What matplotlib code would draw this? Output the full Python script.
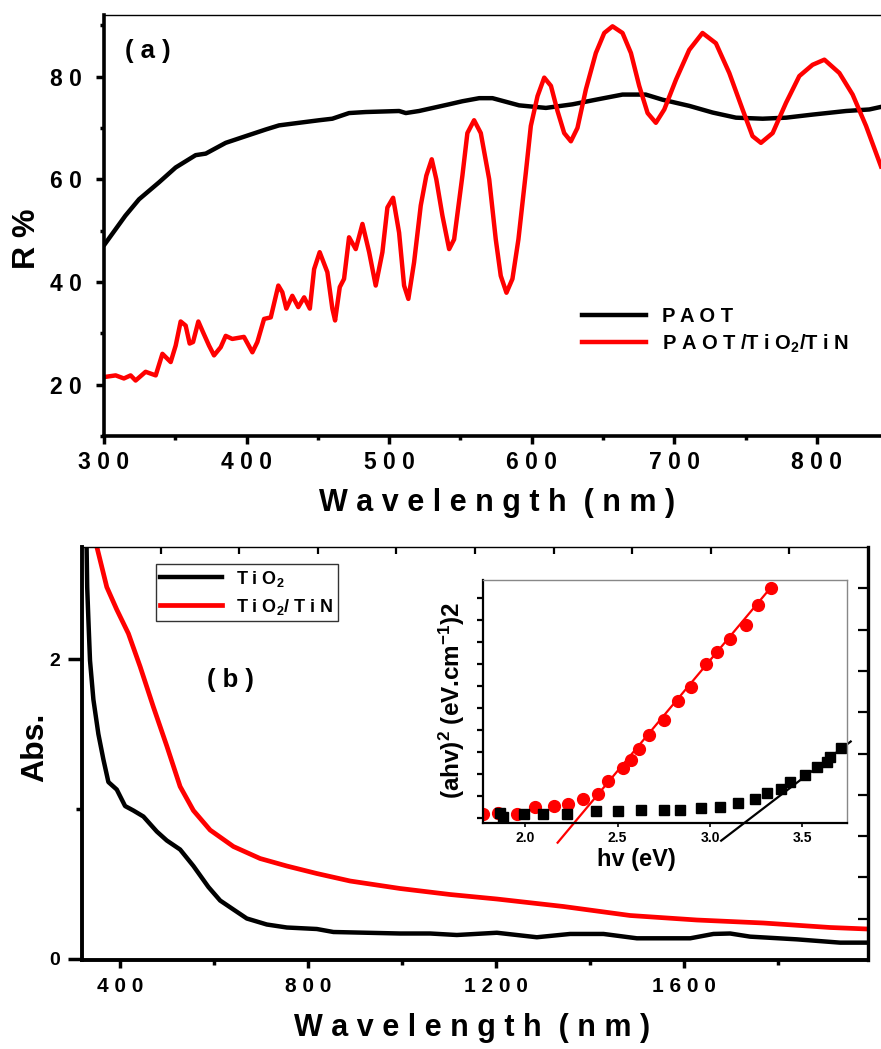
import numpy as np
import matplotlib
matplotlib.use('Agg')
import matplotlib.pyplot as plt
from matplotlib.ticker import FuncFormatter, MultipleLocator

# ---- panel (a): reflectance R % vs wavelength ----
paot_nm = [300.7, 315, 324.6, 338.6, 350.3, 364.3, 371.4, 385.4, 399.4, 413.5, 422.8, 436.8,
           450.9, 460.2, 471.9, 483.6, 507, 511.7, 521, 542, 551.4, 563.2, 572.5, 591.2, 610,
           628.6, 645, 663.7, 680, 691.8, 710.5, 726.9, 743.3, 762, 778.4, 797, 820.5, 836.8, 845]
paot_R = [47.4, 52.9, 56.1, 59.4, 62.3, 64.7, 65.0, 67.1, 68.4, 69.7, 70.5, 71.0,
          71.5, 71.8, 72.9, 73.1, 73.3, 72.9, 73.3, 74.6, 75.2, 75.8, 75.8, 74.4, 73.9,
          74.6, 75.5, 76.5, 76.5, 75.5, 74.3, 73.0, 72.0, 71.8, 72.0, 72.6, 73.3, 73.6, 74.1]

tin_nm = [300.7, 308.2, 314, 318.7, 322.2, 329.2, 336.3, 341, 346.8, 350.3, 353.8, 357.3,
          360.1, 362.5, 366.2, 369.5, 373.7, 377.2, 381.9, 385.4, 390, 398.2, 404.1, 407.6,
          412.3, 417, 422.3, 425.1, 427.9, 432.1, 436.3, 440.4, 444.4, 447.4, 451.3, 456.7,
          460.2, 462.1, 465.4, 468.4, 471.9, 476.6, 481.3, 486, 490.6, 495.3, 498.8, 502.8,
          507, 510.5, 513.5, 517.5, 522.2, 526.1, 529.9, 533.1, 537.4, 542.1, 545.6, 551.4,
          554.9, 559.6, 564.3, 570.2, 574.8, 578.3, 582.3, 586.5, 590.7, 595.9, 599.4, 604.1,
          608.8, 613.5, 618.1, 622.8, 627.5, 632.1, 638, 645, 650.9, 656.7, 663.7, 669.6,
          675.4, 681.3, 687.1, 693, 701.2, 710.5, 719.8, 729.2, 738.6, 747.9, 754.9, 760.8,
          769, 778.4, 787.7, 797, 805.3, 815.8, 825.1, 834.5, 845]
tin_R = [21.5, 21.8, 21.2, 21.8, 20.8, 22.5, 21.8, 26.0, 24.4, 27.6, 32.3, 31.5,
         28.0, 28.3, 32.3, 30.2, 27.6, 25.7, 27.3, 29.5, 28.9, 29.3, 26.3, 28.3,
         32.8, 33.1, 39.3, 38.0, 34.8, 37.3, 35.1, 37.0, 34.8, 42.5, 45.8, 41.9,
         34.8, 32.5, 39.0, 40.6, 48.7, 46.4, 51.3, 45.8, 39.3, 45.8, 54.5, 56.4,
         49.6, 39.3, 36.7, 43.8, 54.9, 60.7, 63.9, 60.0, 52.9, 46.4, 48.3, 60.7,
         69.0, 71.5, 69.0, 60.0, 48.3, 41.2, 37.9, 40.6, 48.3, 61.3, 70.4, 76.2,
         79.8, 78.2, 73.3, 69.0, 67.4, 70.0, 77.5, 84.6, 88.5, 89.8, 88.5, 84.6,
         78.2, 72.9, 71.0, 73.6, 79.4, 85.2, 88.5, 86.5, 80.7, 73.6, 68.4, 67.1,
         69.0, 74.9, 80.1, 82.3, 83.3, 80.7, 76.5, 70.4, 62.5]

# ---- panel (b): absorbance vs wavelength ----
tio2_nm = [328, 330, 332.6, 336, 343.2, 353.8, 364.5, 375.1, 392.9, 410.6, 428.3, 449.6, 478.1,
           499.4, 527.7, 556, 587.9, 612.8, 641.1, 669.6, 712.1, 754.7, 818.5, 853.8, 995.7,
           1059.6, 1116.4, 1201.5, 1286.6, 1357.4, 1428.3, 1499.4, 1612.8, 1662.3, 1697.9,
           1740.4, 1839.8, 1931.9, 1990]
tio2_abs = [2.9, 2.48, 2.26, 1.99, 1.73, 1.50, 1.33, 1.18, 1.13, 1.02, 0.99, 0.95, 0.85,
            0.79, 0.73, 0.62, 0.48, 0.39, 0.33, 0.27, 0.23, 0.21, 0.20, 0.18, 0.17,
            0.17, 0.16, 0.175, 0.145, 0.167, 0.167, 0.138, 0.138, 0.167, 0.17,
            0.149, 0.131, 0.109, 0.109]

tin_b_nm = [350.4, 371.7, 392.9, 417.7, 442.6, 470.9, 499.4, 527.7, 556, 591.5, 641.1, 697.9,
            754.7, 818.5, 889.4, 995.7, 1102, 1201.5, 1343.2, 1485.1, 1627, 1768.7, 1910.6, 1990]
tin_b_abs = [2.75, 2.48, 2.33, 2.17, 1.95, 1.68, 1.42, 1.15, 0.99, 0.86, 0.75, 0.67,
             0.62, 0.57, 0.52, 0.47, 0.43, 0.40, 0.35, 0.29, 0.26, 0.24, 0.21, 0.20]

# ---- inset: Tauc plot ----
red_ev = [1.771, 1.855, 1.955, 2.054, 2.153, 2.231, 2.312, 2.392, 2.448, 2.529, 2.572, 2.618,
          2.668, 2.749, 2.825, 2.899, 2.979, 3.040, 3.107, 3.192, 3.258, 3.331]
red_y = [0.17, 0.21, 0.17, 0.49, 0.56, 0.64, 0.86, 1.08, 1.68, 2.26, 2.61, 3.14,
         3.77, 4.45, 5.32, 5.94, 7.0, 7.53, 8.12, 8.77, 9.67, 10.44]
blk_ev = [1.861, 1.879, 1.991, 2.094, 2.226, 2.383, 2.502, 2.627, 2.753, 2.836, 2.953, 3.053,
          3.150, 3.241, 3.306, 3.385, 3.432, 3.511, 3.580, 3.634, 3.648, 3.706]
blk_y = [0.24, 0.06, 0.18, 0.18, 0.18, 0.33, 0.33, 0.36, 0.36, 0.36, 0.45, 0.49,
         0.67, 0.85, 1.15, 1.30, 1.65, 1.95, 2.30, 2.56, 2.76, 3.17]
red_fit_ev = [2.175, 3.327]
red_fit_y = [-1.12, 10.44]
blk_fit_ev = [3.060, 3.761]
blk_fit_y = [-1.03, 3.47]

plt.rcParams['font.family'] = ['Liberation Sans', 'DejaVu Sans']
plt.rcParams['font.weight'] = 'bold'
plt.rcParams['mathtext.fontset'] = 'custom'
plt.rcParams['mathtext.rm'] = 'Liberation Sans:bold'
plt.rcParams['mathtext.it'] = 'Liberation Sans:bold'
plt.rcParams['mathtext.bf'] = 'Liberation Sans:bold'

spaced = FuncFormatter(lambda v, p: ' '.join(f'{v:.0f}'))
RED = '#ff0000'

fig = plt.figure(figsize=(8.81, 10.49), dpi=100)

# ================= (a) =================
ax_a = fig.add_axes([0.118, 0.5844, 0.882, 0.4013])
ax_a.plot(paot_nm, paot_R, color='black', lw=3.2, solid_joinstyle='round', label='P A O T')
ax_a.plot(tin_nm, tin_R, color=RED, lw=3.2, solid_joinstyle='round',
          label='P A O T /T i O$_2$/T i N')
ax_a.set_xlim(300, 845)
ax_a.set_ylim(10, 92)
ax_a.spines['left'].set_linewidth(2.6)
ax_a.spines['bottom'].set_linewidth(2.6)
ax_a.spines['top'].set_linewidth(1.0)
ax_a.spines['right'].set_visible(False)
ax_a.xaxis.set_major_locator(MultipleLocator(100))
ax_a.xaxis.set_minor_locator(MultipleLocator(50))
ax_a.yaxis.set_major_locator(MultipleLocator(20))
ax_a.yaxis.set_minor_locator(MultipleLocator(10))
ax_a.xaxis.set_major_formatter(spaced)
ax_a.yaxis.set_major_formatter(spaced)
ax_a.tick_params(axis='both', which='major', direction='out', length=6, width=2.5, labelsize=16.5)
ax_a.tick_params(axis='both', which='minor', direction='out', length=3, width=2.5)
ax_a.tick_params(axis='x', which='major', pad=5)
ax_a.tick_params(axis='y', which='major', pad=10)
ax_a.set_xlabel('W a v e l e n g t h  ( n m )', fontsize=22, fontweight='bold')
ax_a.xaxis.set_label_coords(0.506, -0.1235)
ax_a.set_ylabel('R %', fontsize=23, fontweight='bold')
ax_a.yaxis.set_label_coords(-0.080, 0.468)
ax_a.text(0.027, 0.915, '( a )', transform=ax_a.transAxes, fontsize=18.5,
          fontweight='bold', ha='left', va='center')
ax_a.legend(loc='center left', bbox_to_anchor=(0.615, 0.249), frameon=False,
            fontsize=14.5, handlelength=3.2, handletextpad=0.8, labelspacing=0.3,
            borderpad=0, borderaxespad=0)

# ================= (b) =================
ax_b = fig.add_axes([0.0931, 0.0848, 0.8921, 0.3937])
ax_b.plot(tio2_nm, tio2_abs, color='black', lw=3.2, solid_joinstyle='round', label='T i O$_2$')
ax_b.plot(tin_b_nm, tin_b_abs, color=RED, lw=3.4, solid_joinstyle='round',
          label='T i O$_2$/ T i N')
ax_b.set_xlim(319, 1991)
ax_b.set_ylim(-0.007, 2.747)
ax_b.spines['left'].set_linewidth(2.8)
ax_b.spines['bottom'].set_linewidth(2.8)
ax_b.spines['right'].set_linewidth(2.4)
ax_b.spines['top'].set_linewidth(1.0)
ax_b.xaxis.set_major_locator(MultipleLocator(400))
ax_b.xaxis.set_minor_locator(MultipleLocator(200))
ax_b.yaxis.set_major_locator(MultipleLocator(2))
ax_b.yaxis.set_minor_locator(MultipleLocator(1))
ax_b.xaxis.set_major_formatter(spaced)
ax_b.tick_params(axis='x', which='major', direction='out', length=6, width=2.5,
                 labelsize=15, pad=6)
ax_b.tick_params(axis='x', which='minor', direction='out', length=3.5, width=2.5)
ax_b.tick_params(axis='y', which='major', direction='out', length=10, width=2.5,
                 labelsize=14, pad=6)
ax_b.tick_params(axis='y', which='minor', direction='out', length=4, width=2.5)
ax_b.set_xlabel('W a v e l e n g t h  ( n m )', fontsize=22, fontweight='bold')
ax_b.xaxis.set_label_coords(0.496, -0.128)
ax_b.set_ylabel('Abs.', fontsize=23, fontweight='bold')
ax_b.yaxis.set_label_coords(-0.041, 0.516)
ax_b.text(0.159, 0.678, '( b )', transform=ax_b.transAxes, fontsize=18.5,
          fontweight='bold', ha='left', va='center')
leg_b = ax_b.legend(loc='upper left', bbox_to_anchor=(0.094, 0.959), fontsize=13,
                    handlelength=3.4, handletextpad=0.8, labelspacing=0.45,
                    borderpad=0.25, borderaxespad=0, fancybox=False, framealpha=1)
leg_b.get_frame().set_edgecolor('#333333')
leg_b.get_frame().set_linewidth(1.0)

# extra ticks on top and right of (b)
tw_top = ax_b.twiny()
tw_top.set_xlim(0, 1)
tw_top.set_xticks(np.arange(1, 10) / 10)
tw_top.tick_params(axis='x', direction='in', length=5, width=1.6, labeltop=False)
tw_right = ax_b.twinx()
tw_right.set_ylim(0, 1)
tw_right.set_yticks(np.arange(1, 10) / 10)
tw_right.tick_params(axis='y', direction='in', length=7, width=1.6, labelright=False)
for tw in (tw_top, tw_right):
    for s in tw.spines.values():
        s.set_visible(False)

# ================= inset =================
ax_in = fig.add_axes([0.548, 0.2154, 0.4132, 0.2317])
ax_in.plot(red_ev, red_y, 'o', color=RED, ms=8.5, mec=RED)
ax_in.plot(blk_ev, blk_y, 's', color='black', ms=7)
ax_in.plot(red_fit_ev, red_fit_y, color=RED, lw=1.6, clip_on=False)
ax_in.plot(blk_fit_ev, blk_fit_y, color='black', lw=1.6, clip_on=False)
ax_in.set_xlim(1.77, 3.74)
ax_in.set_ylim(-0.23, 10.8)
ax_in.set_xticks([2.0, 2.5, 3.0, 3.5])
ax_in.xaxis.set_major_formatter(FuncFormatter(lambda v, p: f'{v:.1f}'))
ax_in.yaxis.set_major_locator(MultipleLocator(1))
ax_in.set_yticklabels([])
ax_in.tick_params(axis='x', direction='out', length=3, width=1.2, labelsize=10, pad=3)
ax_in.tick_params(axis='y', direction='out', length=4, width=1.6)
ax_in.spines['left'].set_linewidth(1.6)
ax_in.spines['bottom'].set_linewidth(1.6)
ax_in.spines['top'].set_color('#888888')
ax_in.spines['right'].set_color('#888888')
ax_in.spines['top'].set_linewidth(1.0)
ax_in.spines['right'].set_linewidth(1.0)
ax_in.set_xlabel('hv (eV)', fontsize=17, fontweight='bold')
ax_in.xaxis.set_label_coords(0.422, -0.103)
ax_in.set_ylabel('(ahv)$^2$ (eV.cm$^{-1}$)2', fontsize=17.5, fontweight='bold')
ax_in.yaxis.set_label_coords(-0.044, 0.506)

fig.savefig('out.png', dpi=100)
